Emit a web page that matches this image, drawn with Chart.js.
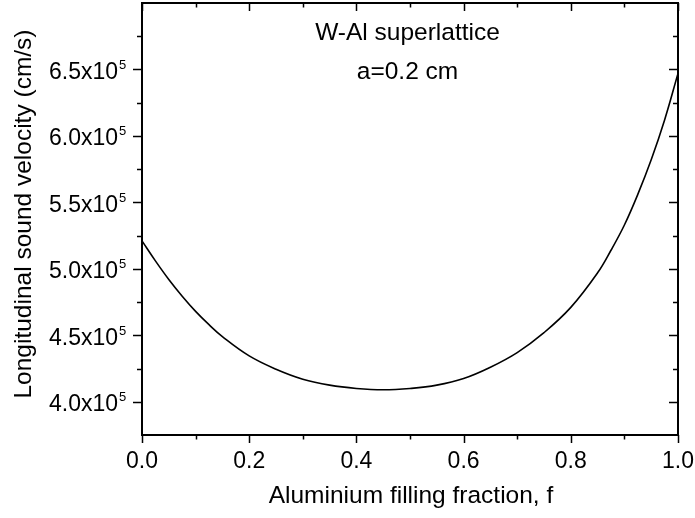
<!DOCTYPE html>
<html>
<head>
<meta charset="utf-8">
<script src="https://cdn.jsdelivr.net/npm/chart.js@4.4.1/dist/chart.umd.min.js"></script>
<style>
  html, body { margin: 0; padding: 0; background: #fff; }
  #wrap { width: 695px; height: 518px; }
</style>
</head>
<body>
<div id="wrap"><canvas id="myChart" width="695" height="518"></canvas></div>
<script>
// values
const fraction = [0, 0.025, 0.05, 0.075, 0.1, 0.125, 0.15, 0.2, 0.25, 0.3, 0.35, 0.4,
  0.45, 0.5, 0.55, 0.6, 0.65, 0.7, 0.75, 0.8, 0.85, 0.875, 0.9, 0.925, 0.95, 0.975, 1.0];
const velocity = [521000, 506000, 492000, 479400, 468000, 458000, 449000, 434500,
  424500, 417000, 412500, 410000, 409000, 410000, 412500, 417500, 426000, 437000,
  452000, 471000, 497000, 514000, 533000, 556000, 582000, 612000, 647000];

const xTickValues = [0, 0.2, 0.4, 0.6, 0.8, 1.0];
const xTickLabels = ['0.0', '0.2', '0.4', '0.6', '0.8', '1.0'];
const yTickValues = [400000, 450000, 500000, 550000, 600000, 650000];
const yTickLabels = ['4.0', '4.5', '5.0', '5.5', '6.0', '6.5'];
const yTickExponent = '5';

const annotationLines = ['W-Al superlattice', 'a=0.2 cm'];
const xTitle = 'Aluminium filling fraction, f';
const yTitle = 'Longitudinal sound velocity (cm/s)';

const FONT = '"Liberation Sans", Arial, sans-serif';

const points = fraction.map((f, i) => ({ x: f, y: velocity[i] }));

// draws the frame, ticks (inward on top/right), labels and titles
const framePlugin = {
  id: 'frame',
  afterDraw(chart) {
    const ctx = chart.ctx;
    const xs = chart.scales.x;
    const ys = chart.scales.y;
    const a = chart.chartArea;
    ctx.save();
    ctx.strokeStyle = '#000';
    ctx.fillStyle = '#000';

    // ticks
    ctx.lineWidth = 1.5;
    ctx.beginPath();
    for (let v = 0; v <= 1.0001; v += 0.1) {
      const x = Math.round(xs.getPixelForValue(v)) + 0.5;
      const major = Math.round(v * 10) % 2 === 0;
      const len = major ? 8 : 4.5;
      ctx.moveTo(x, a.bottom); ctx.lineTo(x, a.bottom + len);
      ctx.moveTo(x, a.top); ctx.lineTo(x, a.top + len);
    }
    for (let v = 400000; v <= 675001; v += 25000) {
      const y = Math.round(ys.getPixelForValue(v)) + 0.5;
      const major = (v % 50000) === 0;
      const len = major ? 9 : 5;
      ctx.moveTo(a.left, y); ctx.lineTo(a.left - len, y);
      ctx.moveTo(a.right, y); ctx.lineTo(a.right - len, y);
    }
    ctx.stroke();

    // frame
    ctx.lineWidth = 2;
    ctx.strokeRect(a.left, a.top, a.right - a.left, a.bottom - a.top);

    // x tick labels
    ctx.font = '23px ' + FONT;
    ctx.textAlign = 'center';
    ctx.textBaseline = 'alphabetic';
    xTickValues.forEach((v, i) => {
      ctx.fillText(xTickLabels[i], xs.getPixelForValue(v), a.bottom + 33);
    });

    // y tick labels with superscript
    yTickValues.forEach((v, i) => {
      const y = ys.getPixelForValue(v);
      ctx.font = '23px ' + FONT;
      ctx.textAlign = 'right';
      ctx.fillText(yTickLabels[i] + 'x10', a.left - 24, y + 9.4);
      ctx.font = '13px ' + FONT;
      ctx.textAlign = 'left';
      ctx.fillText(yTickExponent, a.left - 23, y - 0.5);
    });

    // axis titles
    ctx.font = '24.5px ' + FONT;
    ctx.textAlign = 'center';
    ctx.fillText(xTitle, (a.left + a.right) / 2 + 1, 503);
    ctx.save();
    ctx.translate(30.5, 214);
    ctx.rotate(-Math.PI / 2);
    ctx.fillText(yTitle, 0, 0);
    ctx.restore();

    // annotation
    ctx.font = '24.5px ' + FONT;
    ctx.fillText(annotationLines[0], 407.5, 39.5);
    ctx.fillText(annotationLines[1], 407.5, 78.5);
    ctx.restore();
  }
};

const ctx = document.getElementById('myChart');
new Chart(ctx, {
  type: 'line',
  data: {
    datasets: [{
      data: points,
      borderColor: '#000',
      borderWidth: 1.6,
      pointRadius: 0,
      fill: false,
      tension: 0.4,
    }],
  },
  options: {
    responsive: false,
    animation: false,
    devicePixelRatio: 1,
    layout: { padding: { top: 3, right: 17, left: 0, bottom: 0 } },
    plugins: {
      legend: { display: false },
      tooltip: { enabled: false },
    },
    scales: {
      x: {
        type: 'linear',
        min: 0,
        max: 1,
        grid: { display: false },
        border: { display: false },
        ticks: { display: false, stepSize: 0.2 },
        afterFit: (scale) => { scale.height = 83; },
      },
      y: {
        type: 'linear',
        min: 375000,
        max: 700000,
        grid: { display: false },
        border: { display: false },
        ticks: { display: false, stepSize: 50000 },
        afterFit: (scale) => { scale.width = 142; },
      },
    },
  },
  plugins: [framePlugin],
});
</script>
</body>
</html>
